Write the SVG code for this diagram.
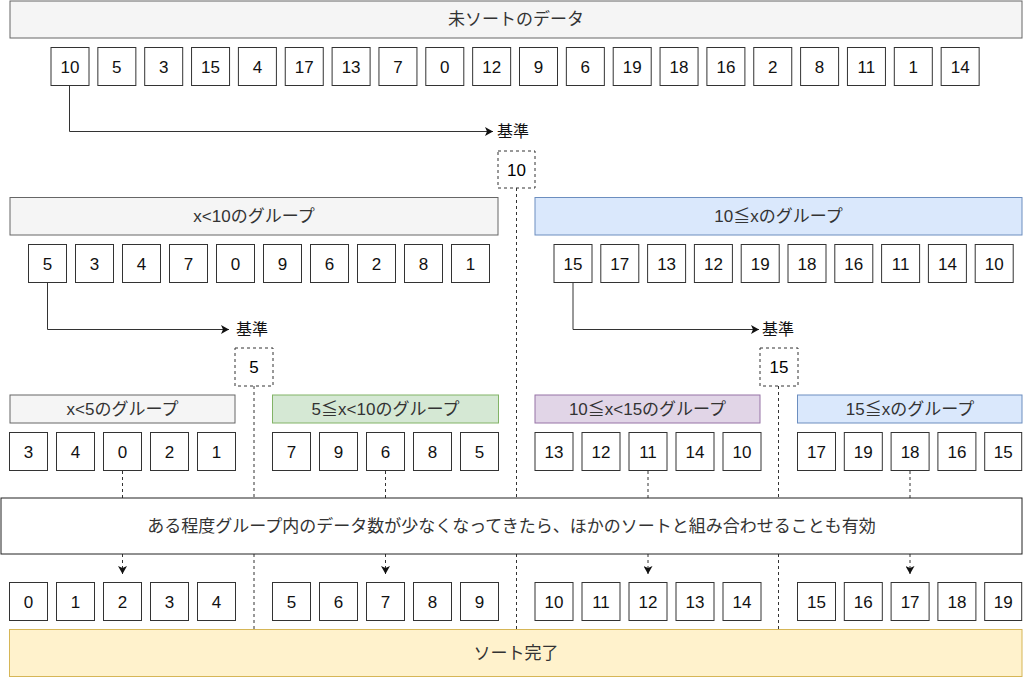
<svg xmlns="http://www.w3.org/2000/svg" width="1024" height="677" viewBox="0 0 1024 677">
<style>
text{font-family:"Liberation Sans","Noto Sans CJK JP",sans-serif;font-size:17px;text-anchor:middle}
.n rect{fill:#fff;stroke:#333;stroke-width:1}
.n text{fill:#111}
.hg{fill:#f5f5f5;stroke:#666}
.hb{fill:#dae8fc;stroke:#6c8ebf}
.hgr{fill:#d5e8d4;stroke:#82b366}
.hp{fill:#e1d5e7;stroke:#9673a6}
.hy{fill:#fff2cc;stroke:#d6b656}
.ht{fill:#333}
.pv rect{fill:#fff;stroke:#333;stroke-dasharray:3 3}
.ln{fill:none;stroke:#333;stroke-width:1}
.dl{fill:none;stroke:#333;stroke-width:1;stroke-dasharray:3 3}
.lb{font-size:16px;fill:#111;text-anchor:start}
</style>
<defs>
<marker id="ah" markerUnits="userSpaceOnUse" markerWidth="9" markerHeight="9" refX="8" refY="4.5" orient="auto">
<path d="M0,0 L8,4.5 L0,9 L2,4.5 z" fill="#111"/>
</marker>
</defs>

<g id="connectors">
<path class="ln" d="M69.5 85.5 V131.5 H493" marker-end="url(#ah)"/>
<path class="ln" d="M47.5 282.5 V329.5 H229" marker-end="url(#ah)"/>
<path class="ln" d="M573 282.5 V329.5 H759" marker-end="url(#ah)"/>
<path class="dl" d="M516.5 188 V629"/>
<path class="dl" d="M254 386 V629"/>
<path class="dl" d="M778.5 386 V629"/>
<path class="dl" d="M122.5 471 V498"/>
<path class="dl" d="M385.5 471 V498"/>
<path class="dl" d="M648 471 V498"/>
<path class="dl" d="M910 471 V498"/>
<path class="dl" d="M122.5 554 V574" marker-end="url(#ah)"/>
<path class="dl" d="M385.5 554 V574" marker-end="url(#ah)"/>
<path class="dl" d="M648 554 V574" marker-end="url(#ah)"/>
<path class="dl" d="M910 554 V574" marker-end="url(#ah)"/>
</g>

<g id="header-unsorted"><rect class="hg" x="10" y="1" width="1012" height="37"/><text class="ht" x="516" y="25">未ソートのデータ</text></g>

<g id="row1" class="n">
<rect x="51" y="47.5" width="38" height="38"/><text x="70" y="72.5">10</text>
<rect x="97.85" y="47.5" width="38" height="38"/><text x="116.85" y="72.5">5</text>
<rect x="144.7" y="47.5" width="38" height="38"/><text x="163.7" y="72.5">3</text>
<rect x="191.55" y="47.5" width="38" height="38"/><text x="210.55" y="72.5">15</text>
<rect x="238.4" y="47.5" width="38" height="38"/><text x="257.4" y="72.5">4</text>
<rect x="285.25" y="47.5" width="38" height="38"/><text x="304.25" y="72.5">17</text>
<rect x="332.1" y="47.5" width="38" height="38"/><text x="351.1" y="72.5">13</text>
<rect x="378.95" y="47.5" width="38" height="38"/><text x="397.95" y="72.5">7</text>
<rect x="425.8" y="47.5" width="38" height="38"/><text x="444.8" y="72.5">0</text>
<rect x="472.65" y="47.5" width="38" height="38"/><text x="491.65" y="72.5">12</text>
<rect x="519.5" y="47.5" width="38" height="38"/><text x="538.5" y="72.5">9</text>
<rect x="566.35" y="47.5" width="38" height="38"/><text x="585.35" y="72.5">6</text>
<rect x="613.2" y="47.5" width="38" height="38"/><text x="632.2" y="72.5">19</text>
<rect x="660.05" y="47.5" width="38" height="38"/><text x="679.05" y="72.5">18</text>
<rect x="706.9" y="47.5" width="38" height="38"/><text x="725.9" y="72.5">16</text>
<rect x="753.75" y="47.5" width="38" height="38"/><text x="772.75" y="72.5">2</text>
<rect x="800.6" y="47.5" width="38" height="38"/><text x="819.6" y="72.5">8</text>
<rect x="847.45" y="47.5" width="38" height="38"/><text x="866.45" y="72.5">11</text>
<rect x="894.3" y="47.5" width="38" height="38"/><text x="913.3" y="72.5">1</text>
<rect x="941.15" y="47.5" width="38" height="38"/><text x="960.15" y="72.5">14</text>
</g>

<g id="label-kijun-1"><text class="lb" x="497" y="137">基準</text></g>
<g id="pivot-10" class="pv"><rect x="498" y="151" width="37" height="37"/><text x="516.5" y="175.5">10</text></g>

<g id="header-lt10"><rect class="hg" x="10" y="197.5" width="488" height="37.5"/><text class="ht" x="254" y="222">x&lt;10のグループ</text></g>
<g id="header-ge10"><rect class="hb" x="535" y="197.5" width="487" height="37.5"/><text class="ht" x="778.5" y="222">10≦xのグループ</text></g>

<g id="row2-left" class="n">
<rect x="28.5" y="244.5" width="38" height="38"/><text x="47.5" y="269.5">5</text>
<rect x="75.5" y="244.5" width="38" height="38"/><text x="94.5" y="269.5">3</text>
<rect x="122.5" y="244.5" width="38" height="38"/><text x="141.5" y="269.5">4</text>
<rect x="169.5" y="244.5" width="38" height="38"/><text x="188.5" y="269.5">7</text>
<rect x="216.5" y="244.5" width="38" height="38"/><text x="235.5" y="269.5">0</text>
<rect x="263.5" y="244.5" width="38" height="38"/><text x="282.5" y="269.5">9</text>
<rect x="310.5" y="244.5" width="38" height="38"/><text x="329.5" y="269.5">6</text>
<rect x="357.5" y="244.5" width="38" height="38"/><text x="376.5" y="269.5">2</text>
<rect x="404.5" y="244.5" width="38" height="38"/><text x="423.5" y="269.5">8</text>
<rect x="451.5" y="244.5" width="38" height="38"/><text x="470.5" y="269.5">1</text>
</g>
<g id="row2-right" class="n">
<rect x="554" y="244.5" width="38" height="38"/><text x="573" y="269.5">15</text>
<rect x="600.8" y="244.5" width="38" height="38"/><text x="619.8" y="269.5">17</text>
<rect x="647.6" y="244.5" width="38" height="38"/><text x="666.6" y="269.5">13</text>
<rect x="694.4" y="244.5" width="38" height="38"/><text x="713.4" y="269.5">12</text>
<rect x="741.2" y="244.5" width="38" height="38"/><text x="760.2" y="269.5">19</text>
<rect x="788" y="244.5" width="38" height="38"/><text x="807" y="269.5">18</text>
<rect x="834.8" y="244.5" width="38" height="38"/><text x="853.8" y="269.5">16</text>
<rect x="881.6" y="244.5" width="38" height="38"/><text x="900.6" y="269.5">11</text>
<rect x="928.4" y="244.5" width="38" height="38"/><text x="947.4" y="269.5">14</text>
<rect x="975.2" y="244.5" width="38" height="38"/><text x="994.2" y="269.5">10</text>
</g>

<g id="label-kijun-2"><text class="lb" x="236" y="335">基準</text></g>
<g id="label-kijun-3"><text class="lb" x="762" y="335">基準</text></g>
<g id="pivot-5" class="pv"><rect x="235" y="348" width="38" height="38"/><text x="254" y="373">5</text></g>
<g id="pivot-15" class="pv"><rect x="760" y="348" width="38" height="38"/><text x="779" y="373">15</text></g>

<g id="header-lt5"><rect class="hg" x="10" y="395" width="225" height="28"/><text class="ht" x="122.5" y="415">x&lt;5のグループ</text></g>
<g id="header-5-10"><rect class="hgr" x="272.5" y="395" width="226" height="28"/><text class="ht" x="385.5" y="415">5≦x&lt;10のグループ</text></g>
<g id="header-10-15"><rect class="hp" x="535" y="395" width="225" height="28"/><text class="ht" x="647.5" y="415">10≦x&lt;15のグループ</text></g>
<g id="header-ge15"><rect class="hb" x="797.5" y="395" width="224.5" height="28"/><text class="ht" x="910" y="415">15≦xのグループ</text></g>

<g id="row3" class="n">
<rect x="9.5" y="432.5" width="38" height="38"/><text x="28.5" y="457.5">3</text>
<rect x="56.5" y="432.5" width="38" height="38"/><text x="75.5" y="457.5">4</text>
<rect x="103.5" y="432.5" width="38" height="38"/><text x="122.5" y="457.5">0</text>
<rect x="150.5" y="432.5" width="38" height="38"/><text x="169.5" y="457.5">2</text>
<rect x="197.5" y="432.5" width="38" height="38"/><text x="216.5" y="457.5">1</text>
<rect x="272.5" y="432.5" width="38" height="38"/><text x="291.5" y="457.5">7</text>
<rect x="319.5" y="432.5" width="38" height="38"/><text x="338.5" y="457.5">9</text>
<rect x="366.5" y="432.5" width="38" height="38"/><text x="385.5" y="457.5">6</text>
<rect x="413.5" y="432.5" width="38" height="38"/><text x="432.5" y="457.5">8</text>
<rect x="460.5" y="432.5" width="38" height="38"/><text x="479.5" y="457.5">5</text>
<rect x="535" y="432.5" width="38" height="38"/><text x="554" y="457.5">13</text>
<rect x="582" y="432.5" width="38" height="38"/><text x="601" y="457.5">12</text>
<rect x="629" y="432.5" width="38" height="38"/><text x="648" y="457.5">11</text>
<rect x="676" y="432.5" width="38" height="38"/><text x="695" y="457.5">14</text>
<rect x="723" y="432.5" width="38" height="38"/><text x="742" y="457.5">10</text>
<rect x="797.5" y="432.5" width="38" height="38"/><text x="816.5" y="457.5">17</text>
<rect x="844.3" y="432.5" width="38" height="38"/><text x="863.3" y="457.5">19</text>
<rect x="891.1" y="432.5" width="38" height="38"/><text x="910.1" y="457.5">18</text>
<rect x="937.9" y="432.5" width="38" height="38"/><text x="956.9" y="457.5">16</text>
<rect x="984.7" y="432.5" width="37" height="38"/><text x="1003.2" y="457.5">15</text>
</g>

<g id="note"><rect x="1" y="498" width="1021" height="56" fill="#fff" stroke="#222"/><text class="ht" x="511.5" y="532">ある程度グループ内のデータ数が少なくなってきたら、ほかのソートと組み合わせることも有効</text></g>

<g id="row4" class="n">
<rect x="9.5" y="582.5" width="38" height="38"/><text x="28.5" y="607.5">0</text>
<rect x="56.5" y="582.5" width="38" height="38"/><text x="75.5" y="607.5">1</text>
<rect x="103.5" y="582.5" width="38" height="38"/><text x="122.5" y="607.5">2</text>
<rect x="150.5" y="582.5" width="38" height="38"/><text x="169.5" y="607.5">3</text>
<rect x="197.5" y="582.5" width="38" height="38"/><text x="216.5" y="607.5">4</text>
<rect x="272.5" y="582.5" width="38" height="38"/><text x="291.5" y="607.5">5</text>
<rect x="319.5" y="582.5" width="38" height="38"/><text x="338.5" y="607.5">6</text>
<rect x="366.5" y="582.5" width="38" height="38"/><text x="385.5" y="607.5">7</text>
<rect x="413.5" y="582.5" width="38" height="38"/><text x="432.5" y="607.5">8</text>
<rect x="460.5" y="582.5" width="38" height="38"/><text x="479.5" y="607.5">9</text>
<rect x="535" y="582.5" width="38" height="38"/><text x="554" y="607.5">10</text>
<rect x="582" y="582.5" width="38" height="38"/><text x="601" y="607.5">11</text>
<rect x="629" y="582.5" width="38" height="38"/><text x="648" y="607.5">12</text>
<rect x="676" y="582.5" width="38" height="38"/><text x="695" y="607.5">13</text>
<rect x="723" y="582.5" width="38" height="38"/><text x="742" y="607.5">14</text>
<rect x="797.5" y="582.5" width="38" height="38"/><text x="816.5" y="607.5">15</text>
<rect x="844.3" y="582.5" width="38" height="38"/><text x="863.3" y="607.5">16</text>
<rect x="891.1" y="582.5" width="38" height="38"/><text x="910.1" y="607.5">17</text>
<rect x="937.9" y="582.5" width="38" height="38"/><text x="956.9" y="607.5">18</text>
<rect x="984.7" y="582.5" width="37" height="38"/><text x="1003.2" y="607.5">19</text>
</g>

<g id="sorted"><rect class="hy" x="9.5" y="629.5" width="1012.5" height="47"/><text class="ht" x="516" y="659">ソート完了</text></g>
</svg>
